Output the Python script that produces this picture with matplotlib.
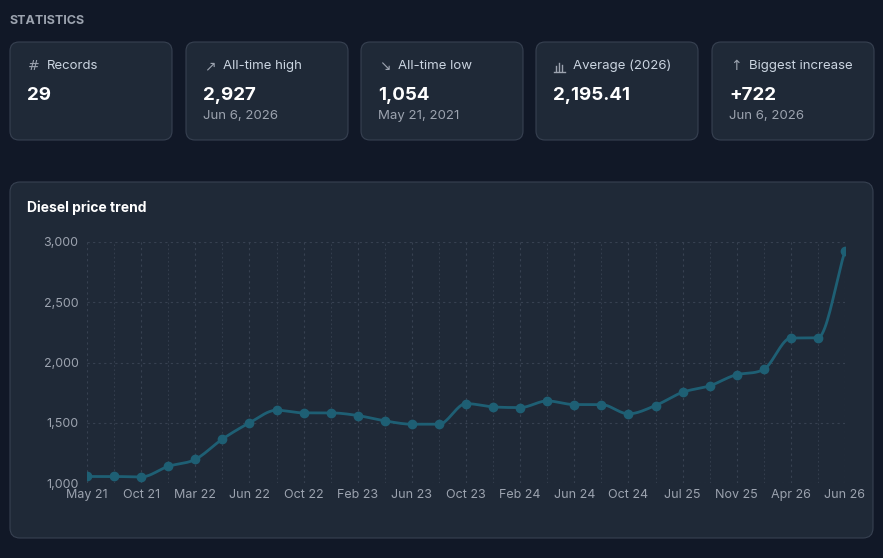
import numpy as np
import matplotlib
matplotlib.use("Agg")
import matplotlib.pyplot as plt
from matplotlib.patches import FancyBboxPatch

plt.rcParams['font.family'] = ['Inter', 'DejaVu Sans']

prices = [1054, 1054, 1050, 1138, 1196, 1364, 1499, 1604, 1582, 1582,
          1560, 1516, 1488, 1488, 1659, 1632, 1626, 1681, 1651, 1651,
          1574, 1643, 1753, 1806, 1899, 1943, 2203, 2205, 2927]
tick_labels = ["May 21", "Oct 21", "Mar 22", "Jun 22", "Oct 22", "Feb 23", "Jun 23",
               "Oct 23", "Feb 24", "Jun 24", "Oct 24", "Jul 25", "Nov 25", "Apr 26", "Jun 26"]
card_titles = ["Records", "All-time high", "All-time low", "Average (2026)", "Biggest increase"]
card_icons = ["#", "↗", "↘", "", "↑"]
card_values = ["29", "2,927", "1,054", "2,195.41", "+722"]
card_subs = ["", "Jun 6, 2026", "May 21, 2021", "", "Jun 6, 2026"]

BG = "#111827"
CARD = "#1f2937"
EDGE = "#374151"
LINE = "#1e5f74"
W, H = 883, 558


def monotone(x, y, n=20):
    # Fritsch-Carlson monotone cubic, like chart.js "monotone"
    x = np.asarray(x, float); y = np.asarray(y, float)
    d = np.diff(y) / np.diff(x)
    m = np.zeros_like(y)
    m[0], m[-1] = d[0], d[-1]
    for i in range(1, len(y) - 1):
        m[i] = 0 if d[i - 1] * d[i] <= 0 else (d[i - 1] + d[i]) / 2
    for i in range(len(d)):
        if d[i] == 0:
            m[i] = m[i + 1] = 0
        else:
            a, b = m[i] / d[i], m[i + 1] / d[i]
            s = a * a + b * b
            if s > 9:
                t = 3 / np.sqrt(s)
                m[i], m[i + 1] = t * a * d[i], t * b * d[i]
    xs, ys = [], []
    for i in range(len(d)):
        h = x[i + 1] - x[i]
        t = np.linspace(0, 1, n, endpoint=False)
        h00 = 2 * t**3 - 3 * t**2 + 1; h10 = t**3 - 2 * t**2 + t
        h01 = -2 * t**3 + 3 * t**2; h11 = t**3 - t**2
        xs.extend(x[i] + t * h)
        ys.extend(h00 * y[i] + h10 * h * m[i] + h01 * y[i + 1] + h11 * h * m[i + 1])
    xs.append(x[-1]); ys.append(y[-1])
    return xs, ys


fig = plt.figure(figsize=(W / 100, H / 100), dpi=100, facecolor=BG)
bg = fig.add_axes([0, 0, 1, 1])
bg.set_xlim(0, W); bg.set_ylim(H, 0); bg.axis("off")

bg.text(10, 21, "STATISTICS", color="#9ca3af", fontsize=9, fontweight="bold", va="center")

card_x = [10, 186, 361, 536, 712]
for cx, icon, title, val, sub in zip(card_x, card_icons, card_titles, card_values, card_subs):
    bg.add_patch(FancyBboxPatch((cx, 42), 162, 98, boxstyle="round,pad=0,rounding_size=9",
                                fc=CARD, ec=EDGE, lw=0.8))
    if icon:
        bg.text(cx + 18, 66, icon, color="#9ca3af", fontsize=10, va="center", family="DejaVu Sans")
    else:
        for k, hh in enumerate([5, 8, 6]):
            bg.plot([cx + 20 + k * 3, cx + 20 + k * 3], [71, 71 - hh], color="#9ca3af", lw=1)
        bg.plot([cx + 18, cx + 29], [71.5, 71.5], color="#9ca3af", lw=1)
    bg.text(cx + 37, 66, title, color="#cbd5e1", fontsize=9.5, va="center")
    bg.text(cx + 17, 95, val, color="white", fontsize=13.5, fontweight="bold", va="center")
    if sub:
        bg.text(cx + 17, 116, sub, color="#9ca3af", fontsize=9.5, va="center")

bg.add_patch(FancyBboxPatch((10, 182), 863, 356, boxstyle="round,pad=0,rounding_size=10",
                            fc=CARD, ec=EDGE, lw=0.8))
bg.text(27, 208, "Diesel price trend", color="white", fontsize=10, fontweight="bold", va="center")

ax = fig.add_axes([87 / W, (H - 483) / H, (845 - 87) / W, (483 - 242) / H])
ax.set_facecolor("none")
x = np.arange(len(prices))
sx, sy = monotone(x, prices)
ax.plot(sx, sy, color=LINE, lw=2)
ax.plot(x, prices, "o", color=LINE, ms=6)
ax.set_xlim(0, len(prices) - 1)
ax.set_ylim(1000, 3000)
ax.set_yticks([1000, 1500, 2000, 2500, 3000])
ax.set_yticklabels(["1,000", "1,500", "2,000", "2,500", "3,000"])
ax.set_xticks(x[::2])
ax.set_xticklabels(tick_labels)
ax.set_xticks(x, minor=True)
ax.grid(True, which="major", color="#374151", ls=(0, (2, 3)), lw=0.8)
ax.grid(True, which="minor", axis="x", color="#374151", ls=(0, (2, 3)), lw=0.6)
for s in ax.spines.values():
    s.set_visible(False)
ax.tick_params(which="both", length=0, colors="#9ca3af", labelsize=9)
ax.tick_params(axis="x", pad=4)
ax.tick_params(axis="y", pad=6)

fig.savefig("out.png", dpi=100, facecolor=BG)
